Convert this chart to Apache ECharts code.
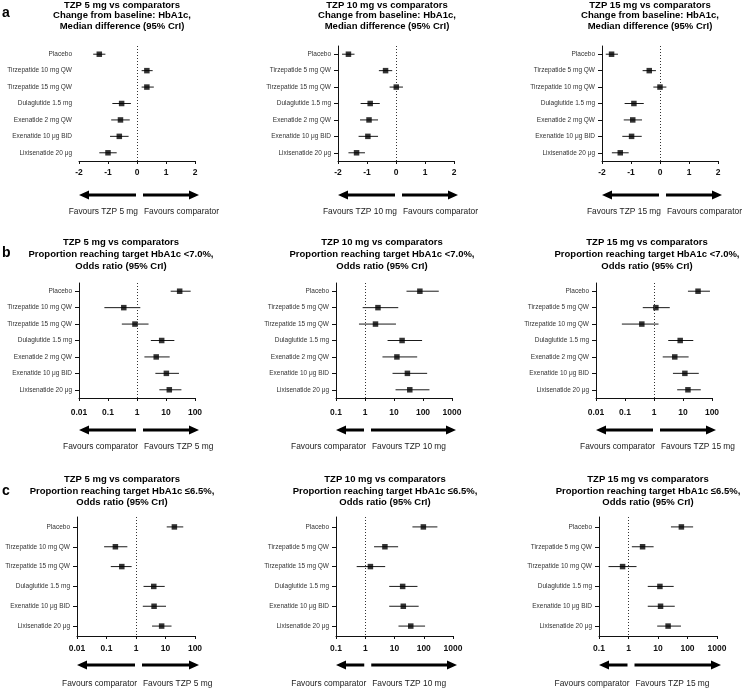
<!DOCTYPE html>
<html><head><meta charset="utf-8">
<script src="https://cdn.jsdelivr.net/npm/echarts@6/dist/echarts.min.js"></script>
<style>html,body{margin:0;padding:0;background:#fff}#c{width:745px;height:690px}</style>
</head><body><div id="c"></div>
<script>
// ---------- DATA ----------
const catsA1 = ['Placebo','Tirzepatide 10 mg QW','Tirzepatide 15 mg QW','Dulaglutide 1.5 mg','Exenatide 2 mg QW','Exenatide 10 μg BID','Lixisenatide 20 μg'];
const catsA2 = ['Placebo','Tirzepatide 5 mg QW','Tirzepatide 15 mg QW','Dulaglutide 1.5 mg','Exenatide 2 mg QW','Exenatide 10 μg BID','Lixisenatide 20 μg'];
const catsA3 = ['Placebo','Tirzepatide 5 mg QW','Tirzepatide 10 mg QW','Dulaglutide 1.5 mg','Exenatide 2 mg QW','Exenatide 10 μg BID','Lixisenatide 20 μg'];
const catsC1 = ['Placebo','Tirzepatide 10 mg QW','Tirzepatide 15 mg QW','Dulaglutide 1.5 mg','Exenatide 10 μg BID','Lixisenatide 20 μg'];
const catsC2 = ['Placebo','Tirzepatide 5 mg QW','Tirzepatide 15 mg QW','Dulaglutide 1.5 mg','Exenatide 10 μg BID','Lixisenatide 20 μg'];
const catsC3 = ['Placebo','Tirzepatide 5 mg QW','Tirzepatide 10 mg QW','Dulaglutide 1.5 mg','Exenatide 10 μg BID','Lixisenatide 20 μg'];

// a: HbA1c change, median difference
const estA1 = [-1.30, 0.34, 0.34, -0.53, -0.57, -0.61, -1.00];
const loA1  = [-1.51, 0.16, 0.16, -0.85, -0.89, -0.93, -1.30];
const hiA1  = [-1.09, 0.54, 0.58, -0.21, -0.25, -0.29, -0.70];
const estA2 = [-1.64, -0.36, 0.01, -0.89, -0.93, -0.97, -1.36];
const loA2  = [-1.86, -0.59, -0.22, -1.22, -1.24, -1.29, -1.64];
const hiA2  = [-1.43, -0.13, 0.24, -0.56, -0.62, -0.62, -1.07];
const estA3 = [-1.67, -0.37, 0.00, -0.90, -0.94, -0.98, -1.37];
const loA3  = [-1.87, -0.60, -0.23, -1.22, -1.25, -1.30, -1.66];
const hiA3  = [-1.45, -0.14, 0.22, -0.56, -0.62, -0.63, -1.08];

// b: HbA1c <7.0%, odds ratio
const estB1 = [29.6, 0.35, 0.85, 7.1, 4.6, 10.3, 13];
const loB1  = [14.5, 0.075, 0.30, 3.0, 1.8, 4.3, 5.9];
const hiB1  = [71, 1.3, 2.5, 19.4, 13.4, 28, 34];
const estB2 = [78, 2.8, 2.3, 19, 12.6, 29, 35];
const loB2  = [27, 0.83, 0.62, 6.0, 4.0, 8.9, 11.3];
const hiB2  = [350, 14, 11.7, 93, 63, 139, 167];
const estB3 = [33, 1.16, 0.38, 8.0, 5.2, 11.6, 14.8];
const loB3  = [14.8, 0.41, 0.078, 3.1, 2.0, 4.5, 6.3];
const hiB3  = [85, 3.5, 1.43, 22.6, 15.6, 35, 41];

// c: HbA1c <=6.5%, odds ratio
const estC1 = [20, 0.20, 0.33, 4.0, 4.1, 7.4];
const loC1  = [11, 0.083, 0.14, 1.8, 1.7, 3.5];
const hiC1  = [40, 0.51, 0.71, 9.4, 10.4, 16];
const estC2 = [97, 4.7, 1.5, 19, 20, 36];
const loC2  = [41, 2.0, 0.51, 6.6, 6.6, 13.7];
const hiC2  = [293, 13.3, 4.8, 61, 67, 111];
const estC3 = [62, 3.0, 0.63, 11.6, 12.2, 22];
const loC3  = [27.5, 1.3, 0.21, 4.5, 4.5, 9.4];
const hiC3  = [155, 7.1, 1.87, 34, 37, 60];

const titlesA = ['TZP 5 mg vs comparators\nChange from baseline: HbA1c,\nMedian difference (95% CrI)',
                 'TZP 10 mg vs comparators\nChange from baseline: HbA1c,\nMedian difference (95% CrI)',
                 'TZP 15 mg vs comparators\nChange from baseline: HbA1c,\nMedian difference (95% CrI)'];
const titlesB = ['TZP 5 mg vs comparators\nProportion reaching target HbA1c <7.0%,\nOdds ratio (95% CrI)',
                 'TZP 10 mg vs comparators\nProportion reaching target HbA1c <7.0%,\nOdds ratio (95% CrI)',
                 'TZP 15 mg vs comparators\nProportion reaching target HbA1c <7.0%,\nOdds ratio (95% CrI)'];
const titlesC = ['TZP 5 mg vs comparators\nProportion reaching target HbA1c ≤6.5%,\nOdds ratio (95% CrI)',
                 'TZP 10 mg vs comparators\nProportion reaching target HbA1c ≤6.5%,\nOdds ratio (95% CrI)',
                 'TZP 15 mg vs comparators\nProportion reaching target HbA1c ≤6.5%,\nOdds ratio (95% CrI)'];
const favTZP = ['Favours TZP 5 mg','Favours TZP 10 mg','Favours TZP 15 mg'];
const favComp = 'Favours comparator';

// ---------- LAYOUT / STYLE ----------
const FONT = '"Liberation Sans", Arial, Helvetica, sans-serif';
const rows = [
  {top: 46,  h: 115, titleTop: 0,   lh: 10.5, tickMargin: 7,  arrowY: 195, favY: 212, letter: 'a', letterTop: 6},
  {top: 283, h: 115, titleTop: 236, lh: 12,   tickMargin: 10, arrowY: 430, favY: 447, letter: 'b', letterTop: 246},
  {top: 517, h: 119, titleTop: 474, lh: 11.5, tickMargin: 8,  arrowY: 665, favY: 684, letter: 'c', letterTop: 484}
];
const panels = [
  {row:0, x0:79,  x1:195, tx:122, cats:catsA1, est:estA1, lo:loA1, hi:hiA1, title:titlesA[0], log:false, min:-2, max:2, ref:0, fl:favTZP[0], fr:favComp, noYAxis:true},
  {row:0, x0:338, x1:454, tx:387, cats:catsA2, est:estA2, lo:loA2, hi:hiA2, title:titlesA[1], log:false, min:-2, max:2, ref:0, fl:favTZP[1], fr:favComp},
  {row:0, x0:602, x1:718, tx:650, cats:catsA3, est:estA3, lo:loA3, hi:hiA3, title:titlesA[2], log:false, min:-2, max:2, ref:0, fl:favTZP[2], fr:favComp},
  {row:1, x0:79,  x1:195, tx:121, cats:catsA1, est:estB1, lo:loB1, hi:hiB1, title:titlesB[0], log:true, min:0.01, max:100, ref:1, fl:favComp, fr:favTZP[0]},
  {row:1, x0:336, x1:452, tx:382, cats:catsA2, est:estB2, lo:loB2, hi:hiB2, title:titlesB[1], log:true, min:0.1, max:1000, ref:1, fl:favComp, fr:favTZP[1]},
  {row:1, x0:596, x1:712, tx:647, cats:catsA3, est:estB3, lo:loB3, hi:hiB3, title:titlesB[2], log:true, min:0.01, max:100, ref:1, fl:favComp, fr:favTZP[2]},
  {row:2, x0:77,  x1:195, tx:122, cats:catsC1, est:estC1, lo:loC1, hi:hiC1, title:titlesC[0], log:true, min:0.01, max:100, ref:1, fl:favComp, fr:favTZP[0]},
  {row:2, x0:336, x1:453, tx:385, cats:catsC2, est:estC2, lo:loC2, hi:hiC2, title:titlesC[1], log:true, min:0.1, max:1000, ref:1, fl:favComp, fr:favTZP[1]},
  {row:2, x0:599, x1:717, tx:648, cats:catsC3, est:estC3, lo:loC3, hi:hiC3, title:titlesC[2], log:true, min:0.1, max:1000, ref:1, fl:favComp, fr:favTZP[2]}
];

const fmt = v => String(parseFloat(Number(v).toPrecision(6)));

const grid = [], xAxis = [], yAxis = [], series = [], title = [];
panels.forEach((p, i) => {
  const r = rows[p.row];
  grid.push({left: p.x0, width: p.x1 - p.x0, top: r.top, height: r.h, containLabel: false});
  const xa = {
    gridIndex: i, min: p.min, max: p.max, splitLine: {show: false},
    axisLine: {show: true, onZero: false, lineStyle: {color: '#111', width: 1}},
    axisTick: {show: true, length: 3, lineStyle: {color: '#111'}},
    axisLabel: {fontFamily: FONT, fontSize: 8.5, fontWeight: 'bold', color: '#111', margin: r.tickMargin, formatter: fmt}
  };
  if (p.log) { xa.type = 'log'; xa.logBase = 10; xa.minorTick = {show: false}; }
  else { xa.type = 'value'; xa.interval = 1; }
  xAxis.push(xa);
  yAxis.push({
    gridIndex: i, type: 'category', data: p.cats, inverse: true,
    axisLine: {show: !p.noYAxis, onZero: false, lineStyle: {color: '#111', width: 1}},
    axisTick: {show: !p.noYAxis, alignWithLabel: true, length: 4, lineStyle: {color: '#111'}},
    axisLabel: {fontFamily: FONT, fontSize: 6.5, color: '#333', margin: 7},
    splitLine: {show: false}
  });
  const ebData = p.cats.map((c, k) => [p.est[k], k, p.lo[k], p.hi[k]]);
  series.push({
    type: 'custom', xAxisIndex: i, yAxisIndex: i, data: ebData,
    encode: {x: [0, 2, 3], y: 1}, silent: true, z: 2,
    renderItem: (params, api) => {
      const k = api.value(1);
      const a = api.coord([api.value(2), k]);
      const b = api.coord([api.value(3), k]);
      return {type: 'line', shape: {x1: a[0], y1: a[1], x2: b[0], y2: b[1]},
              style: {stroke: '#1a1a1a', lineWidth: 1}};
    },
    markLine: {
      silent: true, symbol: 'none', label: {show: false},
      lineStyle: {color: '#333', type: [1, 2], width: 1},
      data: [{xAxis: p.ref}]
    }
  });
  series.push({
    type: 'scatter', xAxisIndex: i, yAxisIndex: i, symbol: 'rect', symbolSize: 5.5,
    itemStyle: {color: '#000'}, z: 3, silent: true,
    data: p.cats.map((c, k) => [p.est[k], k])
  });
  title.push({
    text: p.title, left: p.tx, top: r.titleTop, padding: 0, textAlign: 'center',
    textStyle: {fontFamily: FONT, fontSize: 9.5, fontWeight: 'bold', color: '#000', lineHeight: r.lh}
  });
});
rows.forEach((r, j) => {
  title.push({text: r.letter, left: 2, top: r.letterTop, padding: 0,
    textStyle: {fontFamily: FONT, fontSize: 14, fontWeight: 'bold', color: '#000', lineHeight: 14}});
});

const chart = echarts.init(document.getElementById('c'), null, {renderer: 'canvas'});
chart.setOption({animation: false, backgroundColor: '#fff', title, grid, xAxis, yAxis, series});

// arrows + "Favours" labels placed from the axes' own scales
const gfx = [];
panels.forEach((p, i) => {
  const r = rows[p.row];
  const xa = chart.convertToPixel({xAxisIndex: i}, p.min);
  const xb = chart.convertToPixel({xAxisIndex: i}, p.max);
  const xr = chart.convertToPixel({xAxisIndex: i}, p.ref);
  const y = r.arrowY, s = 1.4, hh = 4.5, hl = 10;
  const ls = xa, le = xr - 1;
  gfx.push({type: 'polygon', silent: true, shape: {points: [
    [ls, y], [ls + hl, y - hh], [ls + hl, y - s], [le, y - s], [le, y + s], [ls + hl, y + s], [ls + hl, y + hh]
  ]}, style: {fill: '#000'}});
  const rs = xr + 6, re = xb + 4;
  gfx.push({type: 'polygon', silent: true, shape: {points: [
    [re, y], [re - hl, y - hh], [re - hl, y - s], [rs, y - s], [rs, y + s], [re - hl, y + s], [re - hl, y + hh]
  ]}, style: {fill: '#000'}});
  gfx.push({type: 'text', silent: true, x: xr + 1, y: r.favY, style: {text: p.fl, align: 'right', verticalAlign: 'middle',
    font: '8.4px ' + FONT, fill: '#222'}});
  gfx.push({type: 'text', silent: true, x: xr + 7, y: r.favY, style: {text: p.fr, align: 'left', verticalAlign: 'middle',
    font: '8.4px ' + FONT, fill: '#222'}});
});
chart.setOption({graphic: gfx});
</script>
</body></html>
